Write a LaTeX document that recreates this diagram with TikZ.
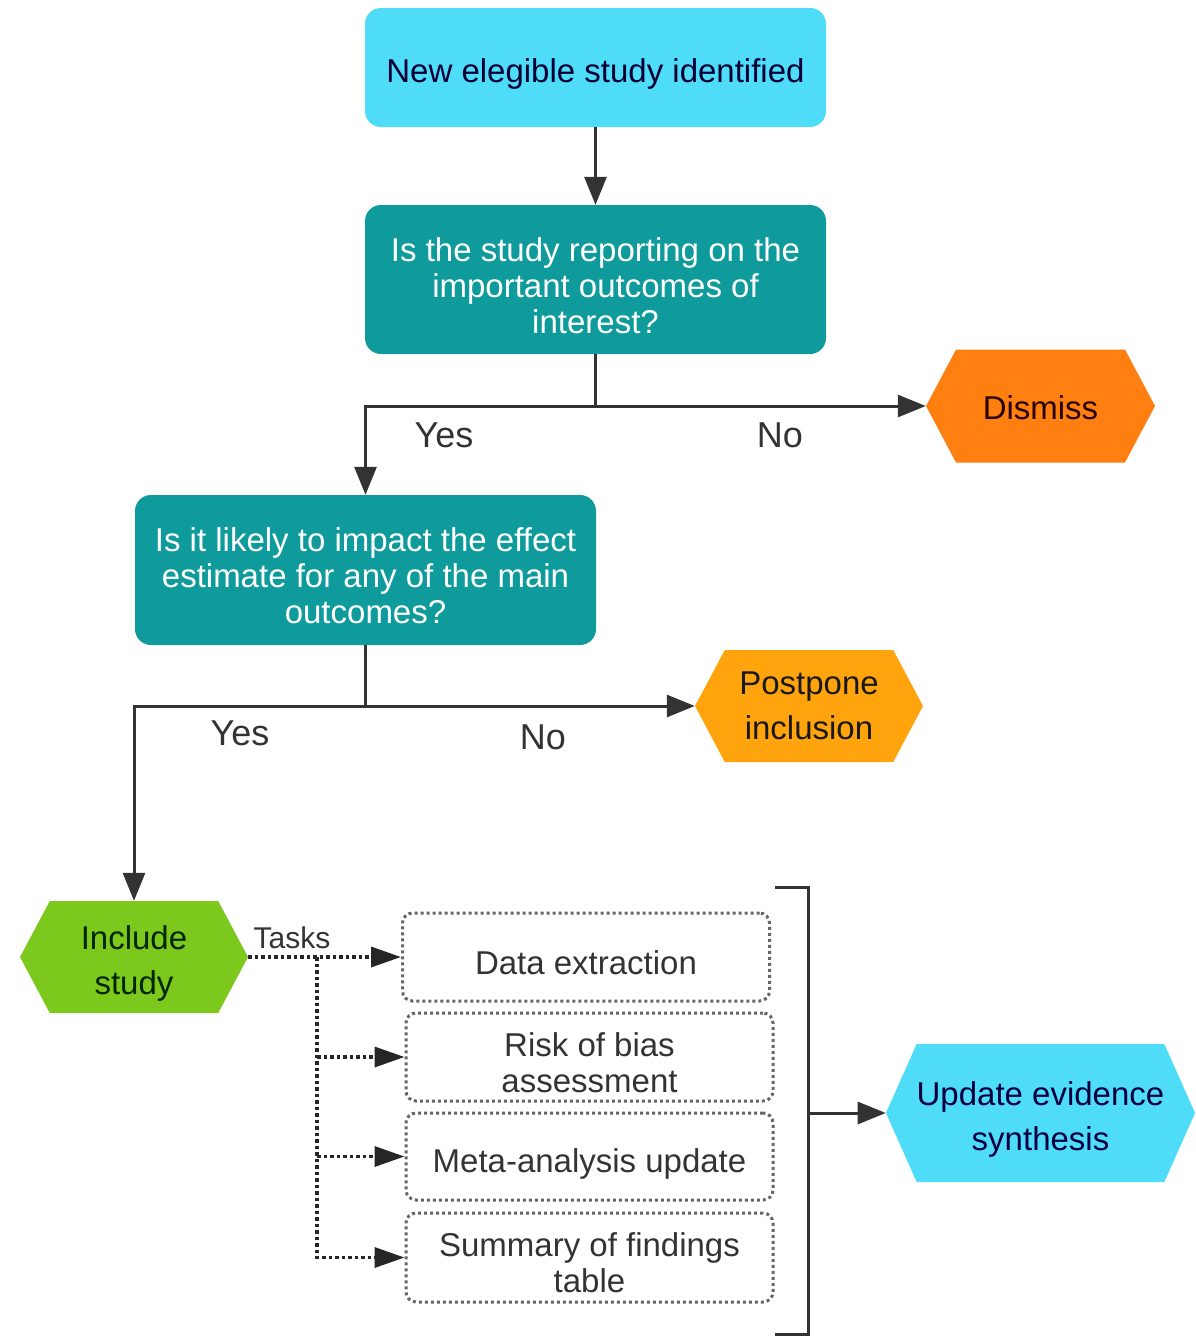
\documentclass[tikz,border=0pt]{standalone}
\usepackage{fontspec}
\setmainfont{Liberation Sans}
\usetikzlibrary{arrows.meta,shapes.symbols}
\definecolor{skyc}{HTML}{4EDCF9}
\definecolor{tealc}{HTML}{0F9A9C}
\definecolor{dismc}{HTML}{FF7F10}
\definecolor{postc}{HTML}{FFA40C}
\definecolor{inclc}{HTML}{7CC81D}
\definecolor{linec}{HTML}{333333}
\newcommand{\lowstrut}[1][36pt]{\rule{0pt}{#1}}
\tikzset{
  box/.style={draw=none, rectangle, rounded corners=16pt, align=center, font=\fontsize{33}{36}\selectfont, minimum width=461pt, inner sep=0pt},
  sbox/.style={box, fill=skyc, text=black!80!blue},
  qbox/.style={box, fill=tealc, text=white},
  hexa/.style={signal, signal to=east and west, signal pointer angle=124, align=center, font=\fontsize{33}{45}\selectfont, inner sep=0pt},
  tbox/.style={draw=black!60, line width=3pt, dash pattern=on 3pt off 3pt, rounded corners=10pt, align=center, font=\fontsize{33}{36}\selectfont, text=linec, minimum width=367pt, inner sep=0pt},
  arr/.style={-{Triangle[length=28pt,width=22pt]}, line width=3pt, draw=linec},
  ln/.style={line width=3pt, draw=linec},
  darr/.style={-{Triangle[length=30pt,width=20pt]}, line width=3.5pt, draw=black!85, dash pattern=on 3.5pt off 3pt},
  lbl/.style={font=\fontsize{36}{40}\selectfont, text=linec, inner sep=0pt},
}

\begin{document}
\begin{tikzpicture}[x=1pt, y=-1pt]
\useasboundingbox (0,0) rectangle (1196,1336);
% questions
\node[sbox, minimum height=119pt] (new) at (595.5,67.5) {\lowstrut New elegible study identified};
\node[qbox, minimum height=149pt] (q1) at (595.5,279.5) {\lowstrut Is the study reporting on the\\important outcomes of\\interest?};
\node[qbox, minimum height=150pt] (q2) at (365.5,570) {\lowstrut Is it likely to impact the effect\\estimate for any of the main\\outcomes?};
% outcomes
\node[hexa, fill=dismc, text=black!85!red, minimum width=229pt, minimum height=113pt] (dism) at (1040.5,406) {\lowstrut[28pt]Dismiss};
\node[hexa, fill=postc, text=black!90, minimum width=228pt, minimum height=112pt] (post) at (809,706) {Postpone\\inclusion};
\node[hexa, fill=inclc, text=black!85!green, minimum width=228pt, minimum height=112pt] (incl) at (134,957) {\lowstrut Include\\study};
\node[hexa, fill=skyc, text=black!75!blue, signal pointer angle=132, minimum width=305pt, minimum height=138pt] (upd) at (1040.5,1113) {\lowstrut Update evidence\\synthesis};
% tasks
\node[tbox, minimum height=88pt] (t1) at (586,957) {\lowstrut Data extraction};
\node[tbox, minimum height=88pt] (t2) at (589.5,1057) {\lowstrut Risk of bias\\assessment};
\node[tbox, minimum height=87pt] (t3) at (589.5,1156.5) {\lowstrut[38pt]Meta-analysis update};
\node[tbox, minimum height=89pt] (t4) at (589.5,1257.5) {\lowstrut[34pt]Summary of findings\\table};
% labels
\node[lbl] (yes1) at (444,435) {Yes};
\node[lbl] (no1) at (780,435) {No};
\node[lbl] (yes2) at (240,733) {Yes};
\node[lbl] (no2) at (543,737) {No};
\node[lbl, font=\fontsize{30}{32}\selectfont] (tasks) at (292,938) {Tasks};
% connectors
\draw[arr] (new) -- (q1);
\coordinate (j1) at (q1.south |- dism.west);
\draw[arr] (q1.south) |- (dism.west);
\draw[arr] (j1) -| (q2.north);
\coordinate (j2) at (q2.south |- post.west);
\draw[arr] (q2.south) |- (post.west);
\draw[arr] (j2) -| (incl.north);
\coordinate (split) at (317,957);
\draw[darr] (incl.east) -- (t1.west);
\draw[darr] (split) |- (t4.west);
\draw[darr] (split |- t2.west) -- (t2.west);
\draw[darr] (split |- t3.west) -- (t3.west);
% bracket
\draw[ln] (775,887) -| (808,1334) -- (775,1334);
\coordinate (brk) at (808,1113);
\draw[arr] (brk) -- (upd.west);
\end{tikzpicture}
\end{document}
